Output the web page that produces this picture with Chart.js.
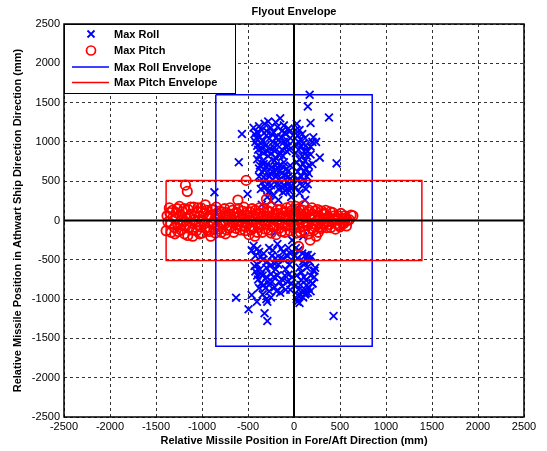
<!DOCTYPE html>
<html>
<head>
<meta charset="utf-8">
<script src="https://cdn.jsdelivr.net/npm/chart.js@4.4.1/dist/chart.umd.min.js"></script>
<style>
  html, body { margin: 0; padding: 0; background: #fff; }
  #wrap { width: 547px; height: 451px; }
</style>
</head>
<body>
<div id="wrap"><canvas id="chart" width="547" height="451"></canvas></div>
<script>
// Max Roll points (mm) - blue x
const rollX = [170, 150, 380, 180, 463, 280, 240, -566, -600, -865, -505,
  -440, -400, -380, -350, -320, -300, -280, -250, -220, -200, -180, -150, -130, -110, -90, -60, -40,
  -420, -390, -360, -330, -310, -280, -260, -230, -210, -180, -160, -130, -110, -80, -60,
  -400, -370, -340, -320, -290, -260, -240, -210, -190, -160, -130, -110, -80, -60, -40,
  -380, -350, -320, -300, -280, -250, -220, -200, -170, -140, -120, -100, -70, -50, -30,
  30, 60, 90, 120, 50, 80, 110, 140, 20, 60, 100, 130, 40, 80, 110, 150, 20, 180, 210, 200, 160, 60, 120, -170, -250, -290,
  -430, -410, -370, -340, -300, -270, -240, -190, -170, -140, -100, -70, -50,
  -400, -380, -350, -290, -250, -220, -200, -150, -120, -90, -50,
  -380, -350, -330, -300, -270, -230, -200, -180, -150, -120, -90, -70, -50,
  -360, -330, -290, -260, -230, -190, -160, -130, -90, -60, -40,
  20, 40, 70, 100, 130, 150, 30, 50, 90, 120, 160, 30, 70, 110, 140, 50, 90, 130, 30, 180, 200,
  -460, -420, -380, -340, -300, -270, -240, -210, -180, -150, -120, -90, -60, -30, -20,
  -420, -390, -360, -330, -300, -270, -240, -210, -180, -150, -120, -90, -60, -30,
  -400, -360, -250, -300,
  -440, -400, -360, -330, -290, -260, -230, -200, -170, -140, -110, -80, -50, -40,
  -430, -400, -370, -340, -310, -280, -250, -220, -190, -160, -130, -100, -70, -40, -20,
  -380, -340, -270, -200,
  20, 40, 60, 90, 120, 150, 180, 210, 230, 200, 160, 130, 100, 70, 40, 30, 60, 120, 150,
  10, 30, 50, 80, 100, 110, 140, 170, 190, 220, 180, 140, 80, 50, 20, 100, 70,
  -630, -494, -460, -403, -320, -290, 430, -290, 36, 127, 221, 127, 202,
  -200, 100, -350, 20];
const rollY = [1600, 1450, 1310, 1240, 727, 800, 1000, 1100, 740, 359, 338,
  1180, 1120, 1200, 1150, 1230, 1080, 1260, 1180, 1120, 1250, 1190, 1300, 1140, 1210, 1100, 1170, 1050,
  1000, 900, 980, 860, 950, 820, 920, 1000, 880, 960, 830, 900, 1000, 880, 950,
  780, 700, 760, 640, 720, 600, 680, 760, 640, 700, 600, 740, 660, 560, 700,
  560, 480, 420, 520, 360, 450, 320, 560, 400, 480, 360, 440, 500, 380, 300,
  1230, 1150, 1100, 1050, 1000, 940, 880, 820, 860, 780, 720, 660, 620, 560, 500, 460, 420, 940, 1060, 720, 600, 350, 260, 260, 250, 300,
  1100, 1050, 1060, 1010, 1140, 1040, 1100, 1060, 1020, 1060, 1120, 1010, 1130,
  950, 830, 920, 880, 850, 930, 800, 860, 820, 940, 900,
  660, 620, 720, 680, 560, 620, 700, 580, 640, 680, 580, 620, 520,
  400, 550, 460, 380, 520, 460, 520, 420, 380, 460, 420,
  1150, 1080, 1030, 980, 950, 880, 960, 900, 820, 760, 700, 740, 680, 620, 560, 520, 440, 400, 520, 840, 1000,
  -380, -450, -400, -500, -600, -350, -450, -550, -300, -480, -400, -620, -350, -500, -250,
  -650, -750, -680, -820, -720, -900, -780, -850, -700, -920, -760, -880, -690, -800,
  -560, -800, -980, -1000,
  -320, -360, -460, -420, -520, -580, -380, -480, -560, -360, -500, -440, -560, -420,
  -580, -700, -620, -700, -860, -780, -680, -720, -900, -780, -840, -700, -780, -880, -720,
  -860, -940, -820, -620,
  -350, -480, -600, -420, -550, -440, -700, -640, -600, -800, -860, -760, -900, -820, -950, -1000, -1050, -940, -920,
  -450, -700, -380, -660, -520, -720, -600, -520, -460, -720, -900, -820, -760, -880, -820, -980, -950,
  -982, -1130, -948, -1033, -1181, -1279, -1216, -1033, -1033, -927, -638, -439, -800,
  -150, -200, 200, 150];

// Max Pitch points (mm) - red circles
const pitchX = [-1380, -1390, -1350, -1340, -1320, -1300, -1290, -1270, -1260, -1240, -1230, -1210, -1200, -1190,
  -1180, -1160, -1170, -1150, -1140, -1120, -1110, -1100, -1090, -1080, -1060, -1050, -1040, -1030,
  -1010, -1000, -990, -980, -960, -950, -940, -920, -910, -900, -880, -870, -860, -840, -830, -810,
  -800, -790, -770, -760, -740, -730, -720, -700, -690, -670, -660, -650, -630, -620, -610, -600,
  -590, -570, -560, -540, -530, -520, -510, -500, -490, -480, -470, -450, -440, -420, -410, -400,
  -390, -370, -360, -340, -330, -310, -300, -290, -280, -260, -250, -240, -220, -210, -190, -180,
  -160, -150, -130, -120, -100, -90, -80, -60, -50, -30, -20, 0, 10, 20, 40, 50, 60, 70, 80, 100,
  110, 120, 140, 150, 160, 170, 190, 200, 210, 230, 240, 250, 270, 280, 300, 310, 320, 340, 360,
  380, 400, 420, 430, 460, 480, 500, 520, 540, 560, 580, 620,
  -1370, -1355, -1335, -1315, -1295, -1280, -1265, -1245, -1225, -1215, -1195, -1175, -1155, -1135,
  -1125, -1105, -1085, -1065, -1045, -1025, -1015, -995, -975, -965, -945, -925, -905, -895,
  -875, -855, -845, -825, -805, -785, -775, -755, -745, -725, -705, -695, -675, -655, -645, -625,
  -605, -585, -575, -555, -545, -525, -505, -485, -465, -455, -435, -425, -405, -385, -375, -355,
  -345, -325, -305, -295, -275, -265, -245, -235, -215, -195, -185, -165, -145, -135, -115, -95,
  -85, -65, -45, -35, -15, -5, 15, 25, 35, 55, 65, 85, 95, 105, 115, 135, 145, 165, 175, 185,
  195, 215, 225, 245, 255, 265, 285, 295, 315, 325, 345, 355, 365, 385, 395, 415, 440, 450,
  470, 490, 510, 530, 550, 570, 600, 640];
const pitchY = [60, -130, 100, -40, 130, -90, 20, 150, -140, 70, -60, 110, -20, -170,
  450, 370, 40, 140, -100, 80, -30, -200, 170, 10, -130, 110, -60, 50,
  160, -160, -10, 90, -90, 130, 30, -140, 70, -40, 140, -110, 20, 90, -70, 120,
  -20, -150, 60, -50, 100, -120, 10, 80, -80, 130, -30, 40, -100, 100, 260, -10,
  60, -70, 120, 20, -130, 510, 70, -40, -180, 110, 0, -90, 60, 130, -30, -150,
  40, 90, -60, 0, 150, -110, 270, 50, -20, 110, -160, 30, -70, 80, -10, 140,
  -100, 50, -40, 100, -150, 20, 160, -60, 70, -20, 130, -100, 40, 180, -40, -330, 90, -150, 10, 130,
  -70, 50, -20, 110, -170, 30, -100, 80, -40, 120, -200, 0, 60, -80, 120, 20, -50, 80, -20,
  40, -90, 100, 10, -40, 60, -80, 20, -40, 30, 0, 70,
  -20, 160, -150, 40, -170, 100, -50, 180, -120, 10, 150, -70, -190, 30,
  170, -120, 60, -20, 160, -170, -80, 120, -40, 200, -120, 60, -200, 140,
  -20, -160, 170, 30, -110, 110, -30, 150, -170, 60, -100, 160, -20, -150, 90, -50,
  150, -120, 30, -30, 170, -80, 110, 30, -120, 150, -20, -200, 80, -90, 160, 30,
  -150, 60, -40, 130, -120, 30, 170, -80, 20, -180, 90, -30, 140, -140, 40, -70,
  110, 10, -130, 180, 50, -60, 110, -160, 10, 150, -90, 60, -30, 190, -130, 80, -60, 130, -250, 20,
  160, -120, 40, -60, 140, -150, 20, -100, 90, -30, 130, -90, 40, -50, 110, -20, 60, -110,
  20, -60, 90, -30, 60, -70, 10, 60];

// envelope rectangles (corners, closed)
const rollEnvX = [-850, 850, 850, -850, -850];
const rollEnvY = [1600, 1600, -1600, -1600, 1600];
const pitchEnvX = [-1390, 1390, 1390, -1390, -1390];
const pitchEnvY = [510, 510, -510, -510, 510];

const axisTicks = [-2500, -2000, -1500, -1000, -500, 0, 500, 1000, 1500, 2000, 2500];

const toPts = (xs, ys) => xs.map((x, i) => ({ x: x, y: ys[i] }));

const FONT = "'Liberation Sans', Arial, sans-serif";

// 그림 틀, 제목, 범례 그리기
const matlabPlugin = {
  id: "matlabFrame",
  afterDraw(chart) {
    const ctx = chart.ctx;
    const a = chart.chartArea;
    ctx.save();
    // box around axes
    ctx.strokeStyle = "#000";
    ctx.lineWidth = 1.5;
    ctx.strokeRect(a.left, a.top, a.right - a.left, a.bottom - a.top);

    // title
    ctx.fillStyle = "#000";
    ctx.font = "bold 11px " + FONT;
    ctx.textAlign = "center";
    ctx.textBaseline = "middle";
    ctx.fillText("Flyout Envelope", (a.left + a.right) / 2, 12);

    // legend
    const lx = a.left, ly = a.top, lw = 171, lh = 69;
    ctx.fillStyle = "#fff";
    ctx.fillRect(lx, ly, lw, lh);
    ctx.strokeStyle = "#000";
    ctx.lineWidth = 1;
    ctx.strokeRect(lx + 0.5, ly + 0.5, lw, lh);

    const mx = lx + 27;
    const rows = [ly + 10, ly + 26.5, ly + 43, ly + 58.5];
    // blue x
    ctx.strokeStyle = "#0000ff";
    ctx.lineWidth = 1.8;
    ctx.beginPath();
    ctx.moveTo(mx - 3.5, rows[0] - 3.5); ctx.lineTo(mx + 3.5, rows[0] + 3.5);
    ctx.moveTo(mx + 3.5, rows[0] - 3.5); ctx.lineTo(mx - 3.5, rows[0] + 3.5);
    ctx.stroke();
    // red circle
    ctx.strokeStyle = "#ff0000";
    ctx.lineWidth = 1.7;
    ctx.beginPath();
    ctx.arc(mx, rows[1], 4.5, 0, Math.PI * 2);
    ctx.stroke();
    // lines
    ctx.lineWidth = 1.5;
    ctx.strokeStyle = "#0000ff";
    ctx.beginPath(); ctx.moveTo(lx + 8, rows[2]); ctx.lineTo(lx + 45, rows[2]); ctx.stroke();
    ctx.strokeStyle = "#ff0000";
    ctx.beginPath(); ctx.moveTo(lx + 8, rows[3]); ctx.lineTo(lx + 45, rows[3]); ctx.stroke();

    ctx.fillStyle = "#000";
    ctx.font = "bold 11px " + FONT;
    ctx.textAlign = "left";
    const labels = ["Max Roll", "Max Pitch", "Max Roll Envelope", "Max Pitch Envelope"];
    labels.forEach((t, i) => ctx.fillText(t, lx + 50, rows[i] + 0.5));
    ctx.restore();
  },
};

new Chart(document.getElementById("chart").getContext("2d"), {
  type: "scatter",
  data: {
    datasets: [
      {
        label: "Max Roll",
        data: toPts(rollX, rollY),
        pointStyle: "crossRot",
        pointRadius: 5.5,
        borderColor: "#0000ff",
        borderWidth: 1.8,
        order: 4,
      },
      {
        label: "Max Pitch",
        data: toPts(pitchX, pitchY),
        pointStyle: "circle",
        pointRadius: 4.7,
        backgroundColor: "rgba(0,0,0,0)",
        borderColor: "#ff0000",
        borderWidth: 1.8,
        order: 3,
      },
      {
        label: "Max Roll Envelope",
        type: "line",
        data: toPts(rollEnvX, rollEnvY),
        borderColor: "#0000ff",
        borderWidth: 1.5,
        pointRadius: 0,
        showLine: true,
        order: 2,
      },
      {
        label: "Max Pitch Envelope",
        type: "line",
        data: toPts(pitchEnvX, pitchEnvY),
        borderColor: "#ff0000",
        borderWidth: 1.5,
        pointRadius: 0,
        showLine: true,
        order: 1,
      },
      {
        label: "x0",
        type: "line",
        data: [{ x: 0, y: -2500 }, { x: 0, y: 2500 }],
        borderColor: "#000",
        borderWidth: 2,
        pointRadius: 0,
        order: 0,
      },
      {
        label: "y0",
        type: "line",
        data: [{ x: -2500, y: 0 }, { x: 2500, y: 0 }],
        borderColor: "#000",
        borderWidth: 2,
        pointRadius: 0,
        order: 0,
      },
    ],
  },
  options: {
    responsive: false,
    animation: false,
    events: [],
    layout: { padding: { top: 24, right: 23, left: 0, bottom: 0 } },
    plugins: {
      legend: { display: false },
      title: { display: false },
      tooltip: { enabled: false },
    },
    scales: {
      x: {
        type: "linear",
        min: -2500,
        max: 2500,
        afterBuildTicks: (s) => { s.ticks = axisTicks.map((v) => ({ value: v })); },
        afterFit: (s) => { s.height = 34; },
        grid: { color: "#333", lineWidth: 1, drawTicks: false },
        border: { display: false, dash: [3, 3] },
        ticks: { color: "#000", font: { family: FONT, size: 11 }, padding: 3, maxRotation: 0, callback: (v) => String(v) },
        title: {
          display: true,
          text: "Relative Missile Position in Fore/Aft Direction (mm)",
          color: "#000",
          font: { family: FONT, size: 11, weight: "bold" },
          padding: { top: 0, bottom: 3 },
        },
      },
      y: {
        type: "linear",
        min: -2500,
        max: 2500,
        afterBuildTicks: (s) => { s.ticks = axisTicks.map((v) => ({ value: v })); },
        afterFit: (s) => { s.width = 64; },
        grid: { color: "#333", lineWidth: 1, drawTicks: false },
        border: { display: false, dash: [3, 3] },
        ticks: { color: "#000", font: { family: FONT, size: 11 }, padding: 4, callback: (v) => String(v) },
        title: {
          display: true,
          text: "Relative Missile Position in Athwart Ship Direction Direction (mm)",
          color: "#000",
          font: { family: FONT, size: 11, weight: "bold" },
          padding: { top: 11, bottom: 0 },
        },
      },
    },
  },
  plugins: [matlabPlugin],
});
</script>
</body>
</html>
